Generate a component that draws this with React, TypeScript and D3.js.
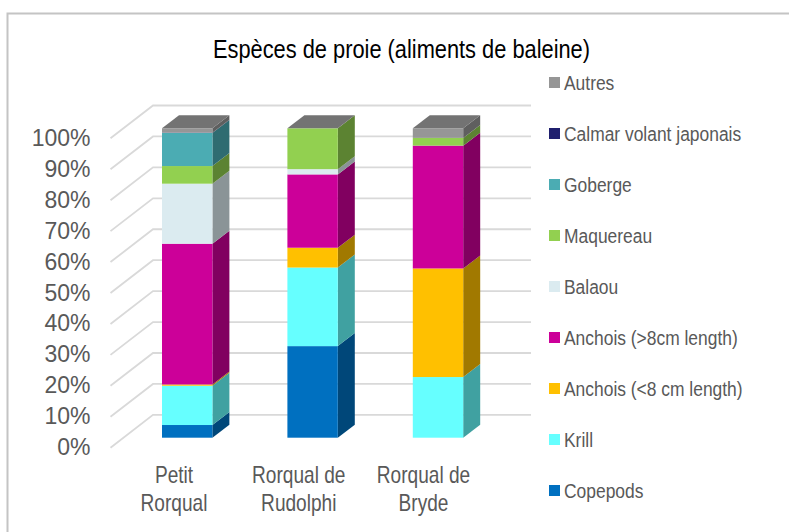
import React from "react";
import * as d3 from "d3";

const title = "Espèces de proie (aliments de baleine)";
const categories = [["Petit", "Rorqual"], ["Rorqual de", "Rudolphi"], ["Rorqual de", "Bryde"]];
const seriesNames = ["Copepods", "Krill", "Anchois (<8 cm length)", "Anchois (>8cm length)", "Balaou", "Maquereau", "Goberge", "Calmar volant japonais", "Autres"];
const colors = ["#0070c0", "#66ffff", "#ffc000", "#cc0099", "#dbebf0", "#92d050", "#4bacb3", "#1f1f6e", "#969696"];
const copepods = [4.1, 29.6, 0];
const krill = [12.7, 25.4, 19.6];
const anchoisSmall = [0.4, 6.4, 35.1];
const anchoisLarge = [45.5, 23.7, 39.7];
const balaou = [19.4, 1.7, 0];
const maquereau = [5.7, 13.2, 2.5];
const goberge = [10.7, 0, 0];
const calmar = [0.1, 0, 0];
const autres = [1.4, 0, 3.1];
const seriesValues = [copepods, krill, anchoisSmall, anchoisLarge, balaou, maquereau, goberge, calmar, autres];
const ticks = d3.range(0, 101, 10);

const y = d3.scaleLinear().domain([0, 100]).range([437.7, 128.3]);
const barX = d3.scalePoint<number>().domain([0, 1, 2]).range([162, 412.8]);
const labelX = d3.scalePoint<number>().domain([0, 1, 2]).range([174, 423.5]);
const legendY = d3.scalePoint<number>().domain(seriesNames.map((_, k) => k)).range([490.5, 82.5]);
const barW = 50.4;
const dx = 17;
const dy = -13;
const gridFrontX = 110.5;
const gridBackX = 153;
const gridEndX = 531;
const gridRise = -32.8;

function shade(c: string, k: number) {
  const r = d3.rgb(c);
  return d3.rgb(r.r * k, r.g * k, r.b * k).formatHex();
}

export default function App() {
  return (
    <svg width={789} height={532} style={{ position: "absolute", left: 0, top: 0, background: "#fff" }} fontFamily="'Liberation Sans', Arial, sans-serif">
      <rect x={7.5} y={13.5} width={800} height={540} fill="#fff" stroke="#c4c4c4" strokeWidth={2} />
      <text x={401.5} y={58} textAnchor="middle" fontSize={26} fill="#000" textLength={377} lengthAdjust="spacingAndGlyphs">{title}</text>
      {ticks.map((t) => {
        const gy = y(t);
        return (
          <g key={t}>
            <path d={`M${gridFrontX},${gy + 10}L${gridBackX},${gy + 10 + gridRise}H${gridEndX}`} fill="none" stroke="#d9d9d9" strokeWidth={1.8} />
            <text x={90.5} y={gy + 17.5} textAnchor="end" fontSize={23} fill="#595959">{t}%</text>
          </g>
        );
      })}
      {categories.map((cat, i) => {
        const bx = barX(i)!;
        const w = barW;
        const stack = d3.stack<number>().keys(seriesNames.map((_, k) => String(k))).value((d, key) => seriesValues[+key][d])([i]);
        const top = y(100);
        return (
          <g key={i}>
            {stack.map((s, k) => {
              const [a, b] = s[0];
              if (b - a <= 0) return null;
              const y0 = y(a), y1 = y(b);
              return (
                <g key={k}>
                  <path d={`M${bx + w},${y0}L${bx + w + dx},${y0 + dy}V${y1 + dy}L${bx + w},${y1}Z`} fill={shade(colors[k], 0.63)} />
                  <rect x={bx} y={y1} width={w} height={y0 - y1} fill={colors[k]} />
                </g>
              );
            })}
            <path d={`M${bx},${top}L${bx + dx},${top + dy}H${bx + w + dx}L${bx + w},${top}Z`} fill="#737373" />
            {cat.map((line, j) => (
              <text key={j} transform={`translate(${labelX(i)},${482.7 + j * 28}) scale(0.83,1)`} textAnchor="middle" fontSize={23} fill="#595959">{line}</text>
            ))}
          </g>
        );
      })}
      {seriesNames.map((name, k) => {
        const ly = legendY(k)!;
        return (
          <g key={name}>
            <rect x={549} y={ly - 5.5} width={11} height={11} fill={colors[k]} />
            <text transform={`translate(564,${ly + 7}) scale(0.83,1)`} fontSize={21} fill="#595959">{name}</text>
          </g>
        );
      })}
    </svg>
  );
}
